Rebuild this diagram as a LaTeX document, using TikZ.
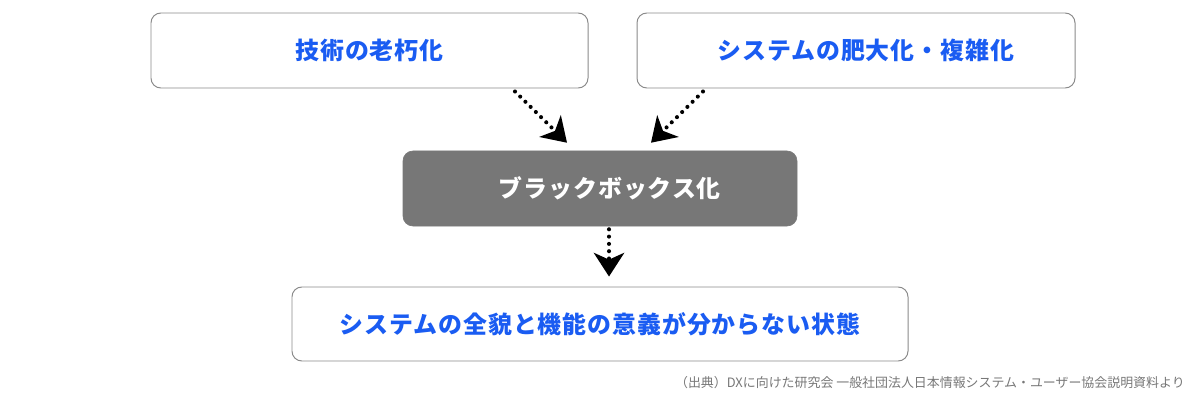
\documentclass[tikz,border=0pt]{standalone}
\usepackage{fontspec}
\newfontfamily\jpfont{Noto Sans CJK JP}[LetterSpace=4]
\newfontfamily\jpnote{Noto Sans CJK JP}
\usetikzlibrary{calc,arrows.meta}
\definecolor{headblue}{HTML}{1A5CF2}
\definecolor{boxgray}{HTML}{777777}
\definecolor{linegray}{HTML}{8A8A8A}
\tikzset{
  causebox/.style={draw=linegray, line width=0.7pt, rounded corners=7pt, fill=white,
    font=\jpfont\bfseries\fontsize{17}{20}\selectfont, text=headblue},
  corebox/.style={rounded corners=7pt, fill=boxgray, draw=boxgray,
    font=\jpfont\bfseries\fontsize{17}{20}\selectfont, text=white},
  dotarrow/.style={line width=2.9pt, line cap=round, dash pattern=on 0pt off 5.2pt,
    -{Stealth[length=17pt,width=22pt,inset=5pt,line cap=butt,line width=0pt]}},
}
\begin{document}
\begin{tikzpicture}[x=0.025cm,y=-0.025cm]
  \useasboundingbox (0,0) rectangle (1200,400);
  %%%%% boxes %%%%%
  \node[causebox, minimum width=437*0.025cm, minimum height=75*0.025cm] (tech) at (369.5,50.5) {技術の老朽化};
  \node[causebox, minimum width=438*0.025cm, minimum height=75*0.025cm] (bloat) at (856,50.5) {\hspace*{14pt}システムの肥大化・複雑化};
  \node[corebox, minimum width=394*0.025cm, minimum height=75*0.025cm] (black) at (600,188.5) {\hspace*{14pt}ブラックボックス化};
  \node[causebox, minimum width=616*0.025cm, minimum height=74*0.025cm] (state) at (600,324) {システムの全貌と機能の意義が分からない状態};
  %%%%% arrows %%%%%
  \draw[dotarrow] ($(tech.south)+(145.5,3)$) -- ($(black.north)+(-33,-8)$);
  \draw[dotarrow] ($(bloat.south)+(-153,3)$) -- ($(black.north)+(51,-8)$);
  \draw[dotarrow] ($(black.south)+(9,3)$) -- ($(state.north)+(9,-10)$);
  %%%%% source %%%%%
  \node[anchor=east, text=boxgray, font=\jpnote\fontsize{9.2}{11}\selectfont, inner sep=0pt] (src) at (1185,383)
    {（出典）DXに向けた研究会 一般社団法人日本情報システム・ユーザー協会説明資料より};
\end{tikzpicture}
\end{document}
